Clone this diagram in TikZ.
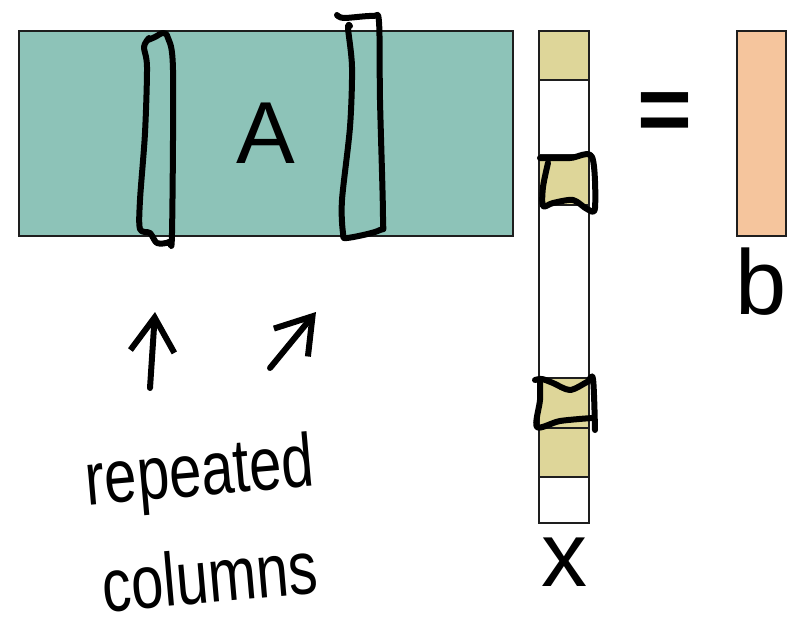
\documentclass[tikz,border=0pt]{standalone}
\usepackage{fontspec}
\setmainfont{Liberation Sans}
\usetikzlibrary{arrows.meta, positioning}
\definecolor{matteal}{RGB}{141,195,184}
\definecolor{vecyellow}{RGB}{222,214,153}
\definecolor{rhspeach}{RGB}{245,197,157}
\definecolor{edgegray}{RGB}{30,30,30}

\begin{document}
\begin{tikzpicture}[
    x=1pt, y=-1pt,
    block/.style={rectangle, draw=edgegray, line width=1.5pt, inner sep=0pt, outer sep=0pt},
    cell/.style={block, minimum width=50pt},
    biglabel/.style={inner sep=0pt, font=\fontsize{92}{92}\selectfont},
    ink/.style={line width=6pt, line cap=round, line join=round, black},
    handarrow/.style={ink, -{Straight Barb[length=34pt, width=44pt]}},
    scrawl/.style={inner sep=0pt, rotate=5, yscale=1.3, font=\fontsize{58}{58}\selectfont}
]
\useasboundingbox (0,0) rectangle (788,627);

% Matrix A
\node[block, fill=matteal, minimum width=494pt, minimum height=205pt, anchor=north west, font=\fontsize{88}{88}\selectfont] (matA) at (19,31) {A};

% Vector x
\node[cell, fill=vecyellow, minimum height=49pt, right=26pt of matA.north east, anchor=north west] (x1) {};
\node[cell, fill=white, minimum height=75pt, below=0pt of x1] (x2) {};
\node[cell, fill=vecyellow, minimum height=50pt, below=0pt of x2] (x3) {};
\node[cell, fill=white, minimum height=173pt, below=0pt of x3] (x4) {};
\node[cell, fill=vecyellow, minimum height=50pt, below=0pt of x4] (x5) {};
\node[cell, fill=vecyellow, minimum height=49pt, below=0pt of x5] (x6) {};
\node[cell, fill=white, minimum height=46pt, below=0pt of x6] (x7) {};
\node[biglabel, below=15pt of x7] (labx) {x};

% Equals and b
\node[biglabel, font=\bfseries\fontsize{94}{94}\selectfont, anchor=base] (eq) at (665,141) {=};
\node[block, fill=rhspeach, minimum width=49pt, minimum height=205pt, anchor=north west] (vecb) at (737,31) {};
\node[biglabel, below=12pt of vecb] (labb) {b};

% Hand-drawn loops round the columns
\draw[ink] plot[smooth] coordinates {(148,40) (155,37) (163,33) (168,38) (173,70) (172,233) (169,242) (157,243) (150,233) (140,229) (140,200) (145,133) (147,67) (144,47) (149,38)};
\draw[ink] plot[smooth] coordinates {(337,15) (344,18) (373,16) (379,22) (380,100) (383,217) (380,230) (347,238) (343,233) (342,200) (350,127) (352,67) (348,28) (350,26)};

% Hand-drawn marks on x
\draw[ink] plot[smooth] coordinates {(548,163) (543,187) (543,206) (553,203) (573,200) (587,209) (595,208) (592,157) (570,158) (540,158)};
\draw[ink] plot[smooth] coordinates {(535,380) (542,379) (553,383) (570,390) (587,382) (593,379) (595,430)};
\draw[ink] plot[smooth] coordinates {(540,380) (540,400) (537,427) (560,421) (592,418)};

% Note and arrows
\node[scrawl] (note1) at (200,476) {repeated};
\node[scrawl] (note2) at (210,576) {columns};
\coordinate (tailL) at (150,388);
\coordinate (tipL) at (155,312);
\coordinate (tailR) at (270,368);
\coordinate (tipR) at (316,312);
\draw[handarrow] (tailL) -- (tipL);
\draw[handarrow] (tailR) -- (tipR);

\end{tikzpicture}
\end{document}
